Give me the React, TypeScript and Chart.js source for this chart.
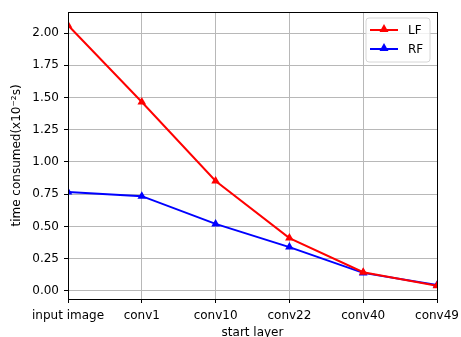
import React, { useEffect, useRef } from "react";
import { Chart, registerables } from "chart.js";

Chart.register(...registerables);

const categories = ["input image", "conv1", "conv10", "conv22", "conv40", "conv49"];
const lfValues = [2.06, 1.465, 0.853, 0.41, 0.145, 0.04];
const rfValues = [0.767, 0.735, 0.52, 0.34, 0.14, 0.045];
const yTicks = [0, 0.25, 0.5, 0.75, 1.0, 1.25, 1.5, 1.75, 2.0];
const legendLabels = ["LF", "RF"];
const seriesColors = ["#ff0000", "#0000ff"];

const FONT = "'DejaVu Sans', sans-serif";

function drawTriangle(ctx: CanvasRenderingContext2D, x: number, y: number, r: number, color: string) {
  ctx.beginPath();
  ctx.moveTo(x, y - r);
  ctx.lineTo(x + r * 0.9, y + r * 0.6);
  ctx.lineTo(x - r * 0.9, y + r * 0.6);
  ctx.closePath();
  ctx.fillStyle = color;
  ctx.fill();
}

const framePlugin = {
  id: "frameLegend",
  afterDatasetsDraw(chart: any) {
    const { ctx, chartArea } = chart;
    const { left, right, top, bottom } = chartArea;
    ctx.save();
    ctx.strokeStyle = "#000";
    ctx.lineWidth = 1;
    ctx.strokeRect(Math.round(left) + 0.5, Math.round(top) + 0.5, Math.round(right - left), Math.round(bottom - top));

    // legend
    const bx = right - 71;
    const by = top + 6;
    const bw = 64;
    const bh = 44;
    ctx.beginPath();
    const r = 3;
    ctx.moveTo(bx + r, by);
    ctx.lineTo(bx + bw - r, by);
    ctx.quadraticCurveTo(bx + bw, by, bx + bw, by + r);
    ctx.lineTo(bx + bw, by + bh - r);
    ctx.quadraticCurveTo(bx + bw, by + bh, bx + bw - r, by + bh);
    ctx.lineTo(bx + r, by + bh);
    ctx.quadraticCurveTo(bx, by + bh, bx, by + bh - r);
    ctx.lineTo(bx, by + r);
    ctx.quadraticCurveTo(bx, by, bx + r, by);
    ctx.closePath();
    ctx.fillStyle = "rgba(255,255,255,0.8)";
    ctx.fill();
    ctx.strokeStyle = "#d6d6d6";
    ctx.lineWidth = 1;
    ctx.stroke();

    legendLabels.forEach((lab, i) => {
      const y = by + 12 + i * 19;
      const color = seriesColors[i];
      ctx.strokeStyle = color;
      ctx.lineWidth = 2;
      ctx.beginPath();
      ctx.moveTo(bx + 4, y);
      ctx.lineTo(bx + 32, y);
      ctx.stroke();
      drawTriangle(ctx, bx + 18, y - 1, 5, color);
      ctx.fillStyle = "#000";
      ctx.font = `12px ${FONT}`;
      ctx.textBaseline = "middle";
      ctx.textAlign = "left";
      ctx.fillText(lab, bx + 42, y + 1);
    });
    ctx.restore();
  },
};

export default function App() {
  const ref = useRef<HTMLCanvasElement>(null);
  useEffect(() => {
    document.body.style.margin = "0";
    const chart = new Chart(ref.current!, {
      type: "line",
      data: {
        labels: categories,
        datasets: [
          {
            label: legendLabels[0],
            data: lfValues,
            borderColor: seriesColors[0],
            backgroundColor: seriesColors[0],
            borderWidth: 2,
            pointStyle: "triangle",
            pointRadius: 5,
            pointBorderWidth: 0,
            clip: 0,
          },
          {
            label: legendLabels[1],
            data: rfValues,
            borderColor: seriesColors[1],
            backgroundColor: seriesColors[1],
            borderWidth: 2,
            pointStyle: "triangle",
            pointRadius: 5,
            pointBorderWidth: 0,
            clip: 0,
          },
        ],
      },
      options: {
        responsive: false,
        animation: false,
        layout: { padding: { left: 6, top: 12, right: 24, bottom: 0 } },
        plugins: { legend: { display: false }, tooltip: { enabled: false } },
        scales: {
          x: {
            type: "category",
            offset: false,
            grid: { color: "#b8b8b8", lineWidth: 1, tickColor: "#000", tickLength: 4 },
            border: { display: false },
            ticks: { color: "#000", font: { family: FONT, size: 12 }, padding: 6, maxRotation: 0, autoSkip: false },
            title: { display: true, text: "start layer", color: "#000", font: { family: FONT, size: 12 }, padding: { top: 0, bottom: -3 } },
            afterFit: (s: any) => { s.height = 38; s.paddingLeft = 0; s.paddingRight = 0; },
          },
          y: {
            min: -0.0625,
            max: 2.163,
            grid: { color: "#b8b8b8", lineWidth: 1, tickColor: "#000", tickLength: 4 },
            border: { display: false },
            afterBuildTicks: (s: any) => { s.ticks = yTicks.map((v) => ({ value: v })); },
            ticks: {
              color: "#000",
              font: { family: FONT, size: 12 },
              padding: 5,
              callback: (v: any) => Number(v).toFixed(2),
            },
            title: { display: true, text: "time consumed(x10⁻²s)", color: "#000", font: { family: FONT, size: 12 }, padding: { top: 4, bottom: 4 } },
            afterFit: (s: any) => { s.width = 62; s.paddingTop = 0; s.paddingBottom = 0; },
          },
        },
      },
      plugins: [framePlugin],
    });
    return () => chart.destroy();
  }, []);
  return (
    <div style={{ position: "absolute", left: 0, top: 0, width: 461, height: 337 }}>
      <canvas ref={ref} width={461} height={337} style={{ width: 461, height: 337 }} />
    </div>
  );
}
